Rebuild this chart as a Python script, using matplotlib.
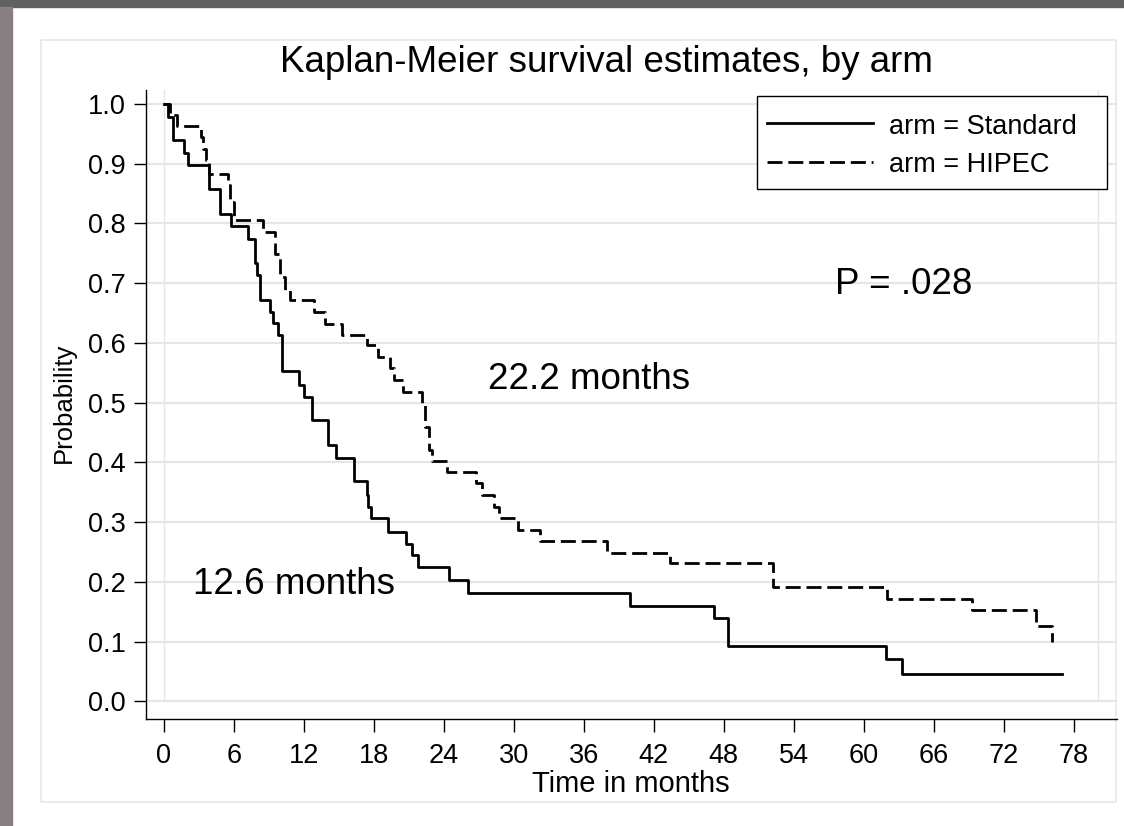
import matplotlib
matplotlib.use("Agg")
import matplotlib.pyplot as plt
from matplotlib.lines import Line2D
from matplotlib.patches import Rectangle

plt.rcParams['font.family'] = ['Liberation Sans', 'DejaVu Sans']

# Kaplan-Meier steps (months, survival)
std_t = [0, 0.4, 0.77, 1.74, 2.06, 3.9, 4.86, 5.74, 7.26, 7.85, 8.0, 8.25, 9.1, 9.4,
         9.83, 10.15, 11.6, 12.0, 12.7, 14.1, 14.8, 16.3, 17.4, 17.55, 17.75, 19.2,
         20.8, 21.3, 21.8, 24.45, 26.1, 40.0, 47.2, 48.4, 61.9, 63.3, 77.0]
std_s = [1.0, .978, .939, .917, .897, .857, .816, .796, .774, .733, .713, .672, .652, .633,
         .613, .552, .529, .510, .470, .429, .408, .368, .345, .326, .306, .284,
         .264, .245, .224, .203, .182, .160, .139, .093, .070, .046, .046]

hip_t = [0, 0.5, 1.1, 3.2, 3.4, 3.6, 3.85, 5.5, 5.65, 6.0, 8.54, 9.54, 9.97, 10.4, 10.83,
         12.88, 13.83, 15.25, 17.4, 18.4, 19.4, 19.7, 20.5, 22.1, 22.4, 22.7, 23.0, 24.25,
         26.8, 27.3, 28.3, 28.7, 30.4, 32.25, 38.0, 43.4, 52.2, 62.0, 69.3, 74.8, 76.1]
hip_s = [1.0, .981, .962, .944, .925, .906, .883, .864, .836, .805, .786, .748, .71, .688, .672,
         .652, .632, .613, .596, .576, .557, .538, .518, .496, .459, .42, .402, .384,
         .365, .346, .326, .306, .287, .269, .249, .231, .192, .172, .152, .126, .100]

xticks = list(range(0, 79, 6))
yticks = [i / 10 for i in range(11)]
labels = ["arm = Standard", "arm = HIPEC"]

W, H = 1124, 826
fig = plt.figure(figsize=(W / 100, H / 100), dpi=100)
fig.patch.set_facecolor("white")


def fx(px):
    return px / W


def fy(py):
    return 1 - py / H


# frame bits around the panel
fig.patches.append(Rectangle((0, fy(7)), 1, 7 / H, transform=fig.transFigure,
                             color="#606060", zorder=-5))
fig.patches.append(Rectangle((0, 0), fx(12), fy(7), transform=fig.transFigure,
                             color="#887f80", zorder=-5))
fig.patches.append(Rectangle((fx(41), fy(802)), (1116 - 41) / W, (802 - 40) / H,
                             transform=fig.transFigure, facecolor="white",
                             edgecolor="#e8e8e8", lw=1.2, zorder=-5))

ax = fig.add_axes([fx(145.7), fy(719), (1116.7 - 145.7) / W, (719 - 90) / H])
ax.set_zorder(2)
ax.set_facecolor("none")
ax.set_xlim(-1.543, 81.68)
ax.set_ylim(-0.0296, 1.023)

dash = (0, (5.4, 2.1))
ax.step(std_t, std_s, where="post", color="black", lw=2.0, zorder=3)
ax.step(hip_t, hip_s, where="post", color="black", lw=2.0, ls=dash, zorder=3)

ax.set_xticks(xticks)
ax.set_yticks(yticks)
ax.set_yticklabels(["%.1f" % v for v in yticks])
ax.yaxis.grid(True, color="#e6e6e6", lw=1.5)
ax.set_axisbelow(True)
for xv in (0, 80.1):
    ax.plot([xv, xv], [0, 1.023], color="#e6e6e6", lw=1.0, zorder=1)

for s in ("top", "right"):
    ax.spines[s].set_visible(False)
for s in ("left", "bottom"):
    ax.spines[s].set_linewidth(1.0)
ax.tick_params(axis="both", length=9, width=1.0, labelsize=19.5)
ax.tick_params(axis="x", pad=8)
ax.tick_params(axis="y", pad=5.5)

ax.text(57.5, .698, "P = .028", fontsize=26.5, va="center")
ax.text(27.8, .538, "22.2 months", fontsize=26.5, va="center")
ax.text(2.5, .195, "12.6 months", fontsize=26.5, va="center")

fig.text(fx(606), fy(62), "Kaplan-Meier survival estimates, by arm",
         fontsize=26.5, ha="center", va="center")
fig.text(fx(631), fy(792), "Time in months", fontsize=21, ha="center", va="baseline")
fig.text(fx(64), fy(403), "Probability", fontsize=18.5, ha="center", va="center",
         rotation=90)

# legend box drawn by hand to match the original spacing
fig.patches.append(Rectangle((fx(756.7), fy(189)), (1106.7 - 756.7) / W, (189 - 96.3) / H,
                             transform=fig.transFigure, facecolor="white",
                             edgecolor="black", lw=1.0, zorder=5))
for i, (lab, st) in enumerate(zip(labels, ["-", dash])):
    ly = [123, 162][i]
    fig.lines.append(Line2D([fx(766.7), fx(873.3)], [fy(ly), fy(ly)],
                            transform=fig.transFigure, color="black", lw=2.0, ls=st,
                            zorder=6))
    fig.text(fx(889), fy([133.7, 172][i]), lab, fontsize=19.5, va="baseline", zorder=6)

fig.savefig("out.png", dpi=100)
